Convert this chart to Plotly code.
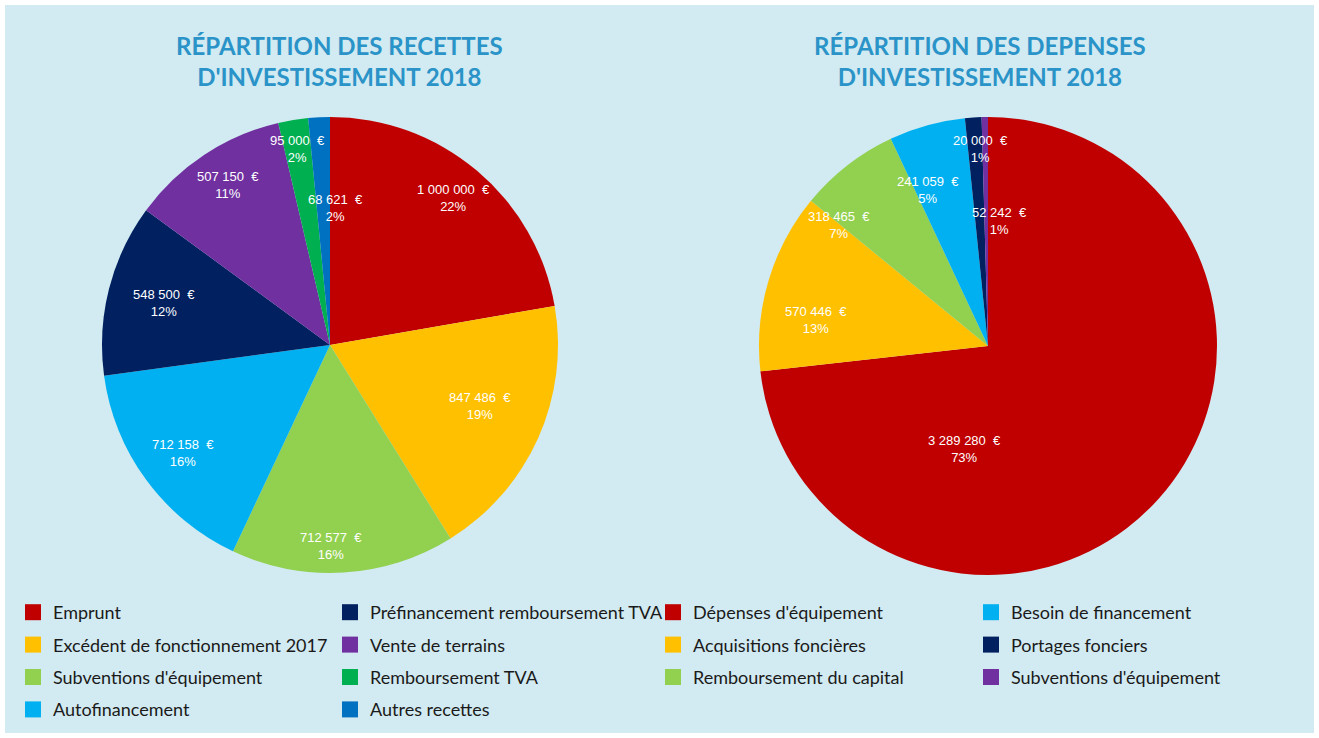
import math
import plotly.graph_objects as go

W, H = 1319, 738

# ---------------- data ----------------
rec_labels = ["Emprunt", "Excédent de fonctionnement 2017", "Subventions d'équipement",
              "Autofinancement", "Préfinancement remboursement TVA", "Vente de terrains",
              "Remboursement TVA", "Autres recettes"]
rec_values = [1000000, 847486, 712577, 712158, 548500, 507150, 95000, 68621]
rec_pct = ["22%", "19%", "16%", "16%", "12%", "11%", "2%", "2%"]

dep_labels = ["Dépenses d'équipement", "Acquisitions foncières", "Remboursement du capital",
              "Besoin de financement", "Portages fonciers", "Subventions d'équipement"]
dep_values = [3289280, 570446, 318465, 241059, 52242, 20000]
dep_pct = ["73%", "13%", "7%", "5%", "1%", "1%"]

title_left = "RÉPARTITION DES RECETTES<br>D'INVESTISSEMENT 2018"
title_right = "RÉPARTITION DES DEPENSES<br>D'INVESTISSEMENT 2018"

# ---------------- styles ----------------
rec_colors = ["#c00000", "#ffc000", "#92d050", "#00b0f0", "#002060", "#7030a0", "#00b050", "#0070c0"]
dep_colors = ["#c00000", "#ffc000", "#92d050", "#00b0f0", "#002060", "#7030a0"]
# label placement (fraction of radius, angular shift in degrees)
rec_lab_r = [0.84, 0.71, 0.88, 0.80, 0.75, 0.83, 0.87, 0.60]
rec_lab_shift = [0, -2, 3, 0, 0, 1, 0, 5]
dep_lab_r = [0.46, 0.76, 0.84, 0.73, 0.55, 0.86]
dep_lab_shift = [61, -8, -13, -5.5, 9, -1.5]

BG = "#d2eaf1"
TITLE_COLOR = "#2a93c8"

left_dom_x = [102 / W, 558 / W]
left_dom_y = [1 - 573 / H, 1 - 117 / H]
right_dom_x = [759 / W, 1217 / W]
right_dom_y = [1 - 575 / H, 1 - 117 / H]


def fmt_val(v):
    return f"{v:,}".replace(",", "\u00a0") + "\u00a0\u00a0€"


fig = go.Figure()


def add_pie(labels, values, colors, domx, domy):
    fig.add_trace(go.Pie(
        labels=labels, values=values, sort=False, direction="clockwise", rotation=0,
        marker=dict(colors=colors, line=dict(width=0)),
        textinfo="none", showlegend=False, hoverinfo="label+value+percent",
        domain=dict(x=domx, y=domy),
    ))


add_pie(rec_labels, rec_values, rec_colors, left_dom_x, left_dom_y)
add_pie(dep_labels, dep_values, dep_colors, right_dom_x, right_dom_y)

annotations = []


def add_labels(values, pcts, domx, domy, rfr, shifts):
    x0, x1 = domx[0] * W, domx[1] * W
    y0, y1 = (1 - domy[1]) * H, (1 - domy[0]) * H
    cx, cy = (x0 + x1) / 2, (y0 + y1) / 2
    R = min(x1 - x0, y1 - y0) / 2
    total = sum(values)
    cum = 0
    for v, p, rf, sh in zip(values, pcts, rfr, shifts):
        mid = (cum + v / 2) / total * 360 + sh
        cum += v
        a = math.radians(mid)
        px = cx + rf * R * math.sin(a)
        py = cy - rf * R * math.cos(a)
        annotations.append(dict(
            x=px / W, y=1 - py / H, xref="paper", yref="paper",
            text=f"{fmt_val(v)}<br>{p}", showarrow=False,
            font=dict(family="Liberation Sans", size=13, color="white"),
            align="center", xanchor="center", yanchor="middle",
        ))


add_labels(rec_values, rec_pct, left_dom_x, left_dom_y, rec_lab_r, rec_lab_shift)
add_labels(dep_values, dep_pct, right_dom_x, right_dom_y, dep_lab_r, dep_lab_shift)

for t, xc in [(title_left, 339), (title_right, 980)]:
    annotations.append(dict(
        x=xc / W, y=1 - 61 / H, xref="paper", yref="paper", text=t, showarrow=False,
        font=dict(family="Lato", size=24, color=TITLE_COLOR, weight="bold"),
        align="center", xanchor="center", yanchor="middle",
    ))

# legend entries (one per category, in column order)
legend_cols = [
    ("legend", rec_labels[:4], rec_colors[:4]),
    ("legend2", rec_labels[4:], rec_colors[4:]),
    ("legend3", dep_labels[:3], dep_colors[:3]),
    ("legend4", dep_labels[3:], dep_colors[3:]),
]
for lg, labs, cols in legend_cols:
    for lab, c in zip(labs, cols):
        fig.add_trace(go.Scatter(
            x=[None], y=[None], mode="markers", name=lab, legend=lg,
            legendgroup=lg + lab,
            marker=dict(symbol="square", size=16, color=c, line=dict(width=0)),
            hoverinfo="skip",
        ))

leg_common = dict(bgcolor="rgba(0,0,0,0)", borderwidth=0, orientation="v",
                  font=dict(family="Lato", size=18, color="#1a1a1a"),
                  tracegroupgap=6, yanchor="top", xanchor="left", itemclick=False)
leg_y = 1 - 594 / H
fig.update_layout(
    legend=dict(x=13 / W, y=leg_y, **leg_common),
    legend2=dict(x=330 / W, y=leg_y, **leg_common),
    legend3=dict(x=653 / W, y=leg_y, **leg_common),
    legend4=dict(x=971 / W, y=leg_y, **leg_common),
)

fig.update_layout(
    width=W, height=H, autosize=False,
    margin=dict(l=0, r=0, t=0, b=0),
    paper_bgcolor=BG, plot_bgcolor=BG,
    xaxis=dict(visible=False), yaxis=dict(visible=False),
    annotations=annotations,
    shapes=[dict(type="rect", xref="paper", yref="paper", x0=0, y0=0, x1=1, y1=1,
                 line=dict(color="white", width=10), fillcolor="rgba(0,0,0,0)", layer="above")],
)

fig.write_html("out.html", post_script="document.body.style.margin='0';",
               config={"displayModeBar": False})
